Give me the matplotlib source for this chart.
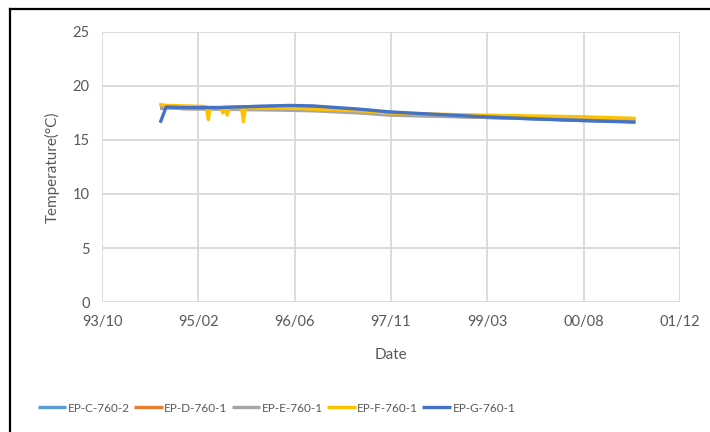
import numpy as np
import pandas as pd
import matplotlib.pyplot as plt
import matplotlib.dates as mdates
from matplotlib.lines import Line2D

plt.rcParams['font.family'] = ['Lato', 'DejaVu Sans']

# shared sampling dates for C, D, E, G
dates = ['1994-07-30', '1994-08-30', '1994-12-01', '1995-06-01', '1995-12-01',
         '1996-06-01', '1996-10-01', '1997-06-01', '1997-11-01', '1998-06-01',
         '1999-03-01', '1999-12-01', '2000-08-01', '2001-05-01']

ep_c = [17.9, 18.0, 18.0, 18.0, 18.1, 18.15, 18.1, 17.8, 17.55, 17.35, 17.1, 16.95, 16.8, 16.7]
ep_d = [18.1, 18.0, 17.9, 17.9, 17.9, 17.9, 17.8, 17.6, 17.4, 17.25, 17.1, 17.0, 16.9, 16.8]
ep_e = [18.1, 18.0, 17.9, 17.85, 17.8, 17.75, 17.7, 17.5, 17.3, 17.2, 17.1, 17.0, 16.95, 16.9]
ep_g = [16.6, 18.05, 18.0, 18.0, 18.1, 18.2, 18.15, 17.85, 17.6, 17.4, 17.15, 16.95, 16.8, 16.65]

# EP-F has a few short dips in 1995
dates_f = ['1994-07-25', '1994-08-30', '1995-03-25', '1995-04-06', '1995-04-15',
           '1995-06-10', '1995-06-20', '1995-07-01', '1995-07-13', '1995-07-25',
           '1995-09-25', '1995-10-05', '1995-10-15', '1996-06-01', '1997-06-01',
           '1997-11-01', '1998-06-01', '1999-03-01', '2000-08-01', '2001-05-01']
ep_f = [18.3, 18.2, 18.1, 16.9, 18.0, 18.0, 17.5, 18.0, 17.3, 18.0,
        18.0, 16.7, 17.95, 17.95, 17.7, 17.5, 17.4, 17.3, 17.15, 17.0]

labels = ['EP-C-760-2', 'EP-D-760-1', 'EP-E-760-1', 'EP-F-760-1', 'EP-G-760-1']
colors = ['#5B9BD5', '#ED7D31', '#A5A5A5', '#FFC000', '#4472C4']

d = pd.to_datetime(dates)
df_ = pd.to_datetime(dates_f)
series = [(d, ep_c), (d, ep_d), (d, ep_e), (df_, ep_f), (d, ep_g)]

fig = plt.figure(figsize=(7.1, 4.32), dpi=100)
ax = fig.add_axes([0.1437, 0.3009, 0.8140, 0.6251])

for (x, y), lab, c in zip(series, labels, colors):
    ax.plot(x, y, color=c, lw=2.4, label=lab, solid_capstyle='butt')

start = pd.Timestamp('1993-10-01')
ticks = [start + pd.Timedelta(days=500 * i) for i in range(7)]
ax.set_xlim(ticks[0], ticks[-1])
ax.set_xticks(ticks)
ax.xaxis.set_major_formatter(mdates.DateFormatter('%y/%m'))
ax.set_ylim(0, 25)
ax.set_yticks(range(0, 26, 5))

ax.grid(True, color='#D9D9D9', lw=1.3)
ax.set_axisbelow(True)
for s in ax.spines.values():
    s.set_visible(False)
ax.tick_params(length=0, labelsize=10.5, colors='#595959', pad=9)

ax.set_xlabel('Date', fontsize=11, color='#595959', labelpad=14)
ax.set_ylabel('Temperature(°C)', fontsize=11, color='#595959', labelpad=9)

fig.legend(loc='center left', bbox_to_anchor=(38 / 710, 1 - 408 / 432),
           ncol=5, frameon=False, fontsize=8.5, borderaxespad=0, borderpad=0,
           handlelength=2.4, handletextpad=0.15, columnspacing=0.35, labelcolor='#595959')

# black border at top and left of the picture
fig.add_artist(Line2D([10 / 710, 1], [1 - 9 / 432, 1 - 9 / 432], color='black', lw=1.6))
fig.add_artist(Line2D([10 / 710, 10 / 710], [0, 1 - 9 / 432], color='black', lw=1.6))

fig.savefig('out.png', dpi=100)
